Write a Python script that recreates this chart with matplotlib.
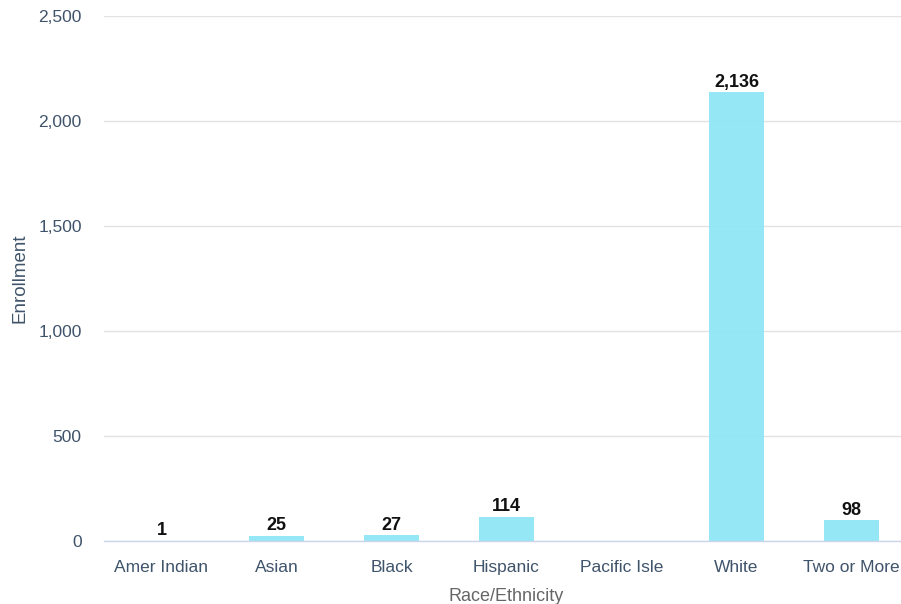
import numpy as np
import matplotlib.pyplot as plt

plt.rcParams['font.family'] = ['Liberation Sans', 'DejaVu Sans']

categories = ['Amer Indian', 'Asian', 'Black', 'Hispanic', 'Pacific Isle', 'White', 'Two or More']
enrollment = [1, 25, 27, 114, None, 2136, 98]
y_ticks = [0, 500, 1000, 1500, 2000, 2500]

fig = plt.figure(figsize=(9.01, 6.04), dpi=100)
# plot area runs from x=104 to ~909 px (clipped on the right), y=16 to 541 px
ax = fig.add_axes([104 / 901, (604 - 541) / 604, 805 / 901, 525 / 604])

x = np.arange(len(categories))
vals = [np.nan if v is None else v for v in enrollment]
ax.bar(x, vals, width=0.48, color='#90e6f6', alpha=0.95, zorder=3)

for xi, v in zip(x, enrollment):
    if v is None:
        continue
    ax.text(xi, v + 8, f'{v:,}', ha='center', va='bottom', fontsize=13,
            fontweight='bold', color='#111111', zorder=4)

ax.set_xlim(-0.5, len(categories) - 0.5)
ax.set_ylim(0, 2500)
ax.set_yticks(y_ticks)
ax.set_yticklabels([f'{t:,}' for t in y_ticks])
ax.set_xticks(x)
ax.set_xticklabels(categories)

ax.grid(axis='y', color='#e3e3e3', linewidth=1, zorder=0)
for side in ['top', 'right', 'left']:
    ax.spines[side].set_visible(False)
ax.spines['bottom'].set_color('#ccd6eb')
ax.spines['bottom'].set_linewidth(1)
ax.spines['bottom'].set_zorder(5)

ax.tick_params(axis='both', length=0, labelsize=12.5, labelcolor='#3f536a')
ax.tick_params(axis='y', pad=16)
ax.tick_params(axis='x', pad=14)

ax.set_xlabel('Race/Ethnicity', fontsize=13, color='#666666', labelpad=9)
ax.set_ylabel('Enrollment', fontsize=13.5, color='#3f536a', labelpad=7)

fig.savefig('out.png', dpi=100)
